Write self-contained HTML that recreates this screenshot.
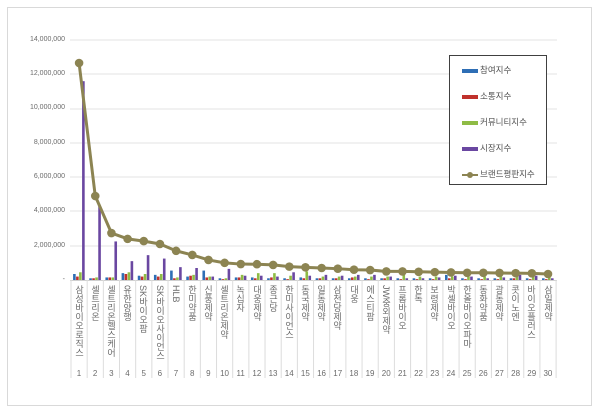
<!DOCTYPE html>
<html><head><meta charset="utf-8"><style>
body{margin:0;background:#fff;width:600px;height:414px;position:relative;overflow:hidden;font-family:"Liberation Sans","Noto Sans CJK KR",sans-serif}
.frame{position:absolute;left:7px;top:7px;width:583px;height:397px;border:1px solid #d9d9d9}
.cl{position:absolute;top:285px;writing-mode:vertical-rl;font-size:9px;color:#6b6b6b;line-height:10px;letter-spacing:0px}
.num{position:absolute;top:369px;font-size:8px;color:#6b6b6b;width:16px;text-align:center}
.yl{position:absolute;left:10px;width:55px;text-align:right;font-size:7px;color:#6b6b6b}
.leg{position:absolute;left:449px;top:55px;width:96px;height:128px;border:1px solid #404040;background:#fff;font-size:8.5px;color:#505050}
.leg div{position:absolute;left:12px;height:12px;line-height:12px}
.leg i{display:inline-block;width:16px;height:4px;vertical-align:middle;margin-right:2px}
</style></head><body>
<div class="frame"></div>
<div class="yl" style="top:36px">14,000,000</div>
<div class="yl" style="top:70px">12,000,000</div>
<div class="yl" style="top:104px">10,000,000</div>
<div class="yl" style="top:139px">8,000,000</div>
<div class="yl" style="top:173px">6,000,000</div>
<div class="yl" style="top:207px">4,000,000</div>
<div class="yl" style="top:242px">2,000,000</div>
<div class="yl" style="top:276px">-</div>
<svg id="s" width="600" height="414" style="position:absolute;left:0;top:0"></svg>
<div id="labels">
<div class="cl" style="left:74px">삼성바이오로직스</div>
<div class="cl" style="left:90px">셀트리온</div>
<div class="cl" style="left:106px">셀트리온헬스케어</div>
<div class="cl" style="left:122px">유한양행</div>
<div class="cl" style="left:138px">SK바이오팜</div>
<div class="cl" style="left:155px">SK바이오사이언스</div>
<div class="cl" style="left:171px">HLB</div>
<div class="cl" style="left:187px">한미약품</div>
<div class="cl" style="left:203px">신풍제약</div>
<div class="cl" style="left:219px">셀트리온제약</div>
<div class="cl" style="left:235px">녹십자</div>
<div class="cl" style="left:252px">대웅제약</div>
<div class="cl" style="left:268px">종근당</div>
<div class="cl" style="left:284px">한미사이언스</div>
<div class="cl" style="left:300px">동국제약</div>
<div class="cl" style="left:316px">일동제약</div>
<div class="cl" style="left:332px">삼천당제약</div>
<div class="cl" style="left:349px">대웅</div>
<div class="cl" style="left:365px">에스티팜</div>
<div class="cl" style="left:381px">JW중외제약</div>
<div class="cl" style="left:397px">프롬바이오</div>
<div class="cl" style="left:413px">한독</div>
<div class="cl" style="left:429px">보령제약</div>
<div class="cl" style="left:446px">박셀바이오</div>
<div class="cl" style="left:462px">한올바이오파마</div>
<div class="cl" style="left:478px">동화약품</div>
<div class="cl" style="left:494px">광동제약</div>
<div class="cl" style="left:510px">콧이노엔</div>
<div class="cl" style="left:526px">바이오플러스</div>
<div class="cl" style="left:543px">삼일제약</div>
</div>
<div id="nums"></div>
<div class="leg">
<div style="top:8px"><i style="background:#2e6eb5"></i>참여지수</div>
<div style="top:34px"><i style="background:#c0312c"></i>소통지수</div>
<div style="top:60px"><i style="background:#8fbc45"></i>커뮤니티지수</div>
<div style="top:86px"><i style="background:#6a47a1"></i>시장지수</div>
<div style="top:112px"><span style="display:inline-block;width:16px;height:2px;background:#8c8452;vertical-align:middle;margin-right:2px;position:relative"><span style="position:absolute;left:5px;top:-2px;width:6px;height:6px;border-radius:3px;background:#8c8452"></span></span>브랜드평판지수</div>
</div>
<script>
var s=document.getElementById('s'),h='';
var y0=280,pm=17.14,x0=71,st=16.17;
[40,74,109,143,177,211,246].forEach(function(y){h+='<line x1="70" x2="557" y1="'+y+'" y2="'+y+'" stroke="#e3e3e3"/>';});
h+='<line x1="70" x2="557" y1="280.5" y2="280.5" stroke="#d0d0d0"/>';
for(var i=0;i<=30;i++){var x=x0+i*st;h+='<line x1="'+x+'" x2="'+x+'" y1="280" y2="378" stroke="#dcdcdc"/>';}
var brand=[12.66,4.9,2.74,2.4,2.27,2.1,1.7,1.46,1.17,1.0,0.93,0.92,0.88,0.78,0.74,0.7,0.66,0.6,0.58,0.5,0.5,0.48,0.46,0.44,0.42,0.42,0.41,0.4,0.39,0.35];
var mk=[11.6,4.3,2.25,1.1,1.45,1.25,0.75,0.7,0.2,0.65,0.25,0.25,0.2,0.45,0.25,0.3,0.25,0.3,0.3,0.2,0.1,0.1,0.15,0.25,0.2,0.1,0.15,0.3,0.25,0.1];
var bl=[0.35,0.1,0.15,0.4,0.25,0.3,0.55,0.2,0.55,0.1,0.15,0.15,0.1,0.1,0.15,0.1,0.1,0.1,0.1,0.1,0.1,0.1,0.1,0.3,0.1,0.1,0.1,0.1,0.1,0.1];
var rd=[0.2,0.1,0.15,0.35,0.2,0.2,0.1,0.25,0.15,0.05,0.15,0.1,0.15,0.05,0.1,0.1,0.1,0.15,0.05,0.1,0.05,0.05,0.05,0.1,0.05,0.05,0.05,0.1,0.05,0.05];
var gr=[0.45,0.15,0.15,0.45,0.35,0.35,0.15,0.3,0.2,0.1,0.3,0.4,0.4,0.25,0.5,0.2,0.2,0.2,0.2,0.2,0.3,0.2,0.2,0.2,0.2,0.2,0.2,0.2,0.2,0.2];
var cols=['#2e6eb5','#c0312c','#8fbc45','#6a47a1'],data=[bl,rd,gr,mk];
for(var i=0;i<30;i++){var cx=x0+i*st+st/2;
 for(var k=0;k<4;k++){var v=data[k][i]*pm;h+='<rect x="'+(cx-6+k*3)+'" y="'+(y0-v)+'" width="2.6" height="'+v+'" fill="'+cols[k]+'"/>';}}
var p='';for(var i=0;i<30;i++){var cx=x0+i*st+st/2;p+=cx+','+(y0-brand[i]*pm)+' ';}
h+='<polyline points="'+p+'" fill="none" stroke="#8c8452" stroke-width="3"/>';
for(var i=0;i<30;i++){var cx=x0+i*st+st/2;h+='<circle cx="'+cx+'" cy="'+(y0-brand[i]*pm)+'" r="4.3" fill="#8c8452"/>';}
s.innerHTML=h;
var n='';for(var i=0;i<30;i++){n+='<div class="num" style="left:'+(x0+i*st)+'px">'+(i+1)+'</div>';}
document.getElementById('nums').innerHTML=n;
</script>
</body></html>
